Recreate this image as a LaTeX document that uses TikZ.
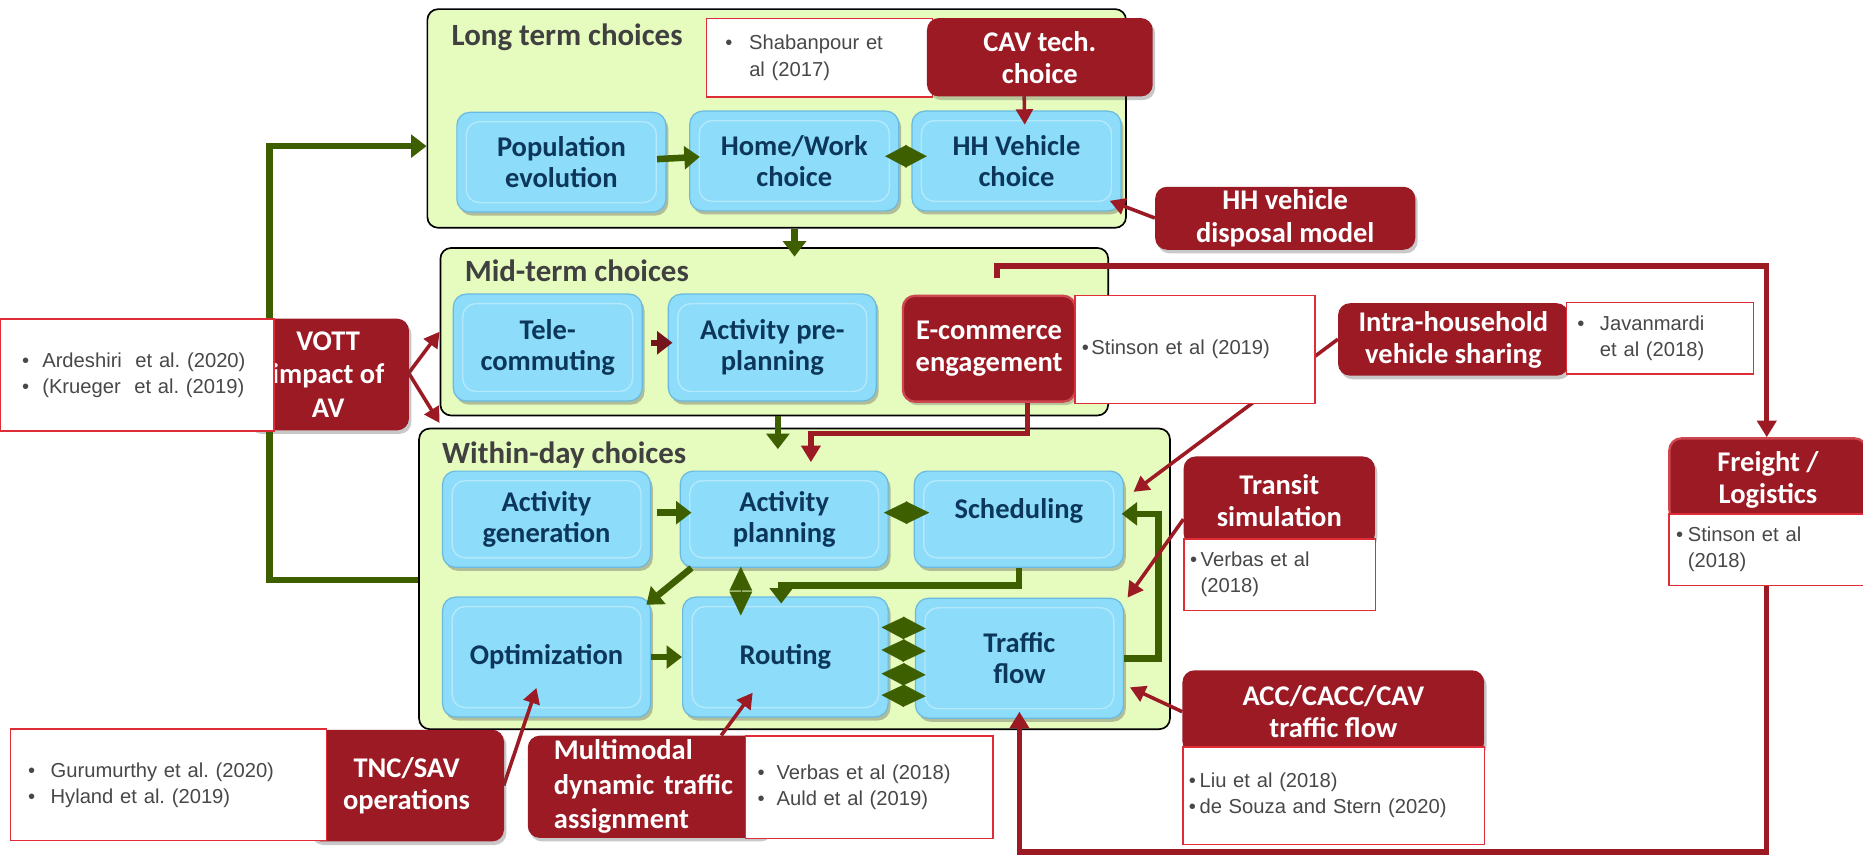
\documentclass[tikz,border=0pt]{standalone}
\usepackage{fontspec}
\setmainfont{Carlito}
\newfontfamily\citefont{Liberation Sans}
\usetikzlibrary{arrows.meta,shadows}
\definecolor{dred}{RGB}{155,26,36}
\definecolor{dredlight}{RGB}{205,70,80}
\definecolor{cred}{RGB}{222,45,55}
\definecolor{lgreen}{RGB}{230,251,190}
\definecolor{bfill}{RGB}{140,220,250}
\definecolor{bedge}{RGB}{105,185,225}
\definecolor{navy}{RGB}{12,55,90}
\definecolor{gline}{RGB}{62,95,0}
\definecolor{tgray}{RGB}{64,64,64}
\definecolor{cgray}{RGB}{72,72,72}
\newcommand\bitem[2]{\makebox[#1][l]{\textbullet}#2}
\newcommand\bcont[2]{\hspace*{#1}#2}
\frenchspacing
\begin{document}
\begin{tikzpicture}[x=1pt,y=-1pt,
  grp/.style={anchor=north west, inner sep=0pt, draw=black, line width=1.4pt, rounded corners=9pt, fill=lgreen},
  gtitle/.style={anchor=base west, inner sep=0pt, text=tgray, font=\fontsize{26}{30}\selectfont\bfseries},
  bbox/.style={anchor=north west, inner sep=0pt, rounded corners=11pt, fill=bfill, draw=bedge, line width=1pt,
    text=navy, font=\fontsize{24}{26}\selectfont\bfseries, align=center,
    drop shadow={shadow xshift=2pt, shadow yshift=-3pt, opacity=0.35, fill=black!70},
    path picture={\draw[white, opacity=0.35, line width=1.2pt]
      ([shift={(8pt,-8pt)}]path picture bounding box.north west) rectangle
      ([shift={(-8pt,8pt)}]path picture bounding box.south east);}},
  rbox/.style={anchor=north west, inner sep=0pt, rounded corners=10pt, fill=dred, text=white,
    font=\fontsize{24}{27}\selectfont\bfseries, align=center,
    drop shadow={shadow xshift=2pt, shadow yshift=-3pt, opacity=0.3, fill=black!70}},
  rboxd/.style={rbox, draw=dredlight, line width=2pt},
  cbox/.style={anchor=north west, inner ysep=0pt, draw=cred, line width=1.2pt, fill=white, text=cgray,
    font=\citefont\fontsize{17}{22}\selectfont, align=left},
  garrow/.style={draw=gline, line width=5.5pt, -{Triangle[length=13pt,width=19pt]}},
  gdiam/.style={draw=gline, fill=gline, line width=0.1pt,
    {Triangle[length=#1,width=19pt]}-{Triangle[length=#1,width=19pt]}},
  rarrow/.style={draw=dred, line width=3pt, -{Triangle[length=13pt,width=14pt]}},
  rline/.style={draw=dred, line width=4.5pt}
]
\useasboundingbox (0,0) rectangle (1568,720);
\fill[white] (0,0) rectangle (1568,720);

% groups
\node[grp, minimum width=588, minimum height=184] (lt) at (359,7) {};
\node[grp, minimum width=562, minimum height=141] (mt) at (370,208) {};
\node[grp, minimum width=632, minimum height=253] (wd) at (352,360) {};
\node[gtitle] (ltt) at (380,38) {Long term choices};
\node[gtitle] (mtt) at (391,237) {Mid-term choices};
\node[gtitle] (wdt) at (372,390) {Within-day choices};

% blue boxes
\node[bbox, minimum width=176, minimum height=84] (pop) at (384,94) {Population\\evolution};
\node[bbox, minimum width=176, minimum height=84] (hw) at (580,93) {Home/Work\\choice};
\node[bbox, minimum width=176, minimum height=84] (hh) at (767,93) {HH Vehicle\\choice};
\node[bbox, minimum width=159, minimum height=90] (tele) at (381,247) {Tele-\\commuting};
\node[bbox, minimum width=175, minimum height=90] (app) at (562,247) {Activity pre-\\planning};
\node[bbox, minimum width=175, minimum height=81] (ag) at (372,396) {Activity\\generation};
\node[bbox, minimum width=175, minimum height=81] (ap) at (572,396) {Activity\\planning};
\node[bbox, minimum width=176, minimum height=81] (sch) at (769,396) {Scheduling\\[-8pt]~};
\node[bbox, minimum width=175, minimum height=101] (opt) at (372,502) {Optimization};
\node[bbox, minimum width=173, minimum height=101] (rout) at (574,502) {Routing};
\node[bbox, minimum width=175, minimum height=101] (tf) at (770,503) {Traffic\\flow};

% green connectors
\coordinate (fbb) at (227,488);
\coordinate (fbt) at (227,123);
\draw[garrow] (wd.west |- fbb) -- (fbb) -- (fbt) -- (lt.west |- fbt);
\draw[garrow, shorten <=-8pt, shorten >=-9pt] ([yshift=3pt]pop.east) -- ([yshift=3pt]hw.west);
\draw[gdiam=18pt] ([xshift=-12pt,yshift=4pt]hw.east) -- ([xshift=13pt,yshift=4pt]hh.west);
\draw[garrow, shorten >=-8pt] ([xshift=15pt]lt.south) -- ([xshift=15pt]lt.south |- mt.north);
\draw[garrow, shorten >=-18pt] ([xshift=3pt]mt.south) -- ([xshift=3pt]mt.south |- wd.north);
\draw[garrow, shorten <=5pt, shorten >=-10pt] ([yshift=5.5pt]ag.east) -- ([yshift=5.5pt]ap.west);
\draw[gdiam=19.5pt] ([xshift=-4pt,yshift=5.5pt]ap.east) -- ([xshift=13pt,yshift=5.5pt]sch.west);
\draw[garrow] ([xshift=10pt]ap.south west) -- ([xshift=-4pt,yshift=-7pt]opt.north east);
\draw[gdiam=20pt] ([xshift=-36.5pt,yshift=1pt]ap.south) -- ([xshift=-36.5pt,yshift=-16pt]ap.south |- rout.north);
\draw[garrow, shorten >=-6pt] (sch.south) -- ++(0,15) -| ([xshift=-3.5pt]rout.north);
\draw[garrow] (opt.east) -- (rout.west);
\foreach \dy in {25,6,-14,-32} {
  \draw[gdiam=19pt] ([xshift=-6pt,yshift=\dy pt]rout.east) -- ([xshift=9pt,yshift=\dy pt]tf.west);
}
\draw[garrow, shorten >=-2pt] (tf.east) -- ++(29,0) |- ([yshift=4.5pt]sch.east);

% dark red arrow in mid-term
\draw[draw=dred!75!black, line width=5pt, -{Triangle[length=13pt,width=19pt]}, shorten <=7pt, shorten >=-4pt]
  ([yshift=4pt]tele.east) -- ([yshift=4pt]app.west);

% red connectors
\node[rboxd, minimum width=145, minimum height=89] (ec) at (759,248) {E-commerce\\engagement};
\draw[rline, -{Triangle[length=14pt,width=16pt]}] ([xshift=6.5pt,yshift=14pt]ec.north) -- ++(0,-10) -| (1487,368);
\draw[rline, -{Triangle[length=14pt,width=16pt]}] ([xshift=32.5pt]ec.south) -- ++(0,26) -| ([xshift=22.5pt,yshift=7pt]ap.north);
\draw[rarrow] (1126,285.5) -- ([xshift=8pt,yshift=-18pt]sch.north east);
\draw[rarrow] (996,437) -- ([xshift=3pt]tf.north east);
\draw[rarrow] (995,599) -- ([xshift=5pt,yshift=-24.5pt]tf.east);
\draw[rline, -{Triangle[length=14pt,width=16pt]}] (1487,492) -- (1487,717) -| ([yshift=6pt]tf.south);
\draw[rarrow] (424,661) -- ([xshift=-8.5pt,yshift=25pt]opt.south);
\draw[rarrow] (607,619) -- ([xshift=-27.5pt,yshift=21pt]rout.south);
\draw[rarrow] (344,314) -- (mt.west);
\draw[rarrow] (344,314) -- ([xshift=18pt,yshift=4pt]wd.north west);
\draw[rarrow] (862,81) -- ([xshift=7pt,yshift=-12pt]hh.north);
\draw[rarrow] (972,183.5) -- ([xshift=-10pt,yshift=9pt]hh.south east);

% red boxes and citations
\node[cbox, minimum height=66, text width=158, inner xsep=16pt] (shab) at (594,15)
  {\bitem{20pt}{Shabanpour et}\\\bcont{20pt}{al (2017)}};
\node[rbox, minimum width=190, minimum height=66] (cav) at (780,15) {CAV tech.\\choice};
\node[rbox, minimum width=219, minimum height=53] (disp) at (972,157) {HH vehicle\\disposal model};

\node[rbox, minimum width=136, minimum height=94, font=\fontsize{24}{28}\selectfont\bfseries] (vott) at (208,268) {VOTT\\impact of\\AV};
\node[cbox, minimum height=94, text width=194, inner xsep=18pt] (ard) at (0,268)
  {\bitem{17pt}{Ardeshiri \ et al. (2020)}\\\bitem{17pt}{(Krueger \ et al. (2019)}};

\node[cbox, minimum height=91, text width=190, inner xsep=6pt] (stin) at (904,248)
  {\bitem{8pt}{Stinson et al (2019)}};

\node[rbox, minimum width=194, minimum height=61] (intra) at (1126,255) {Intra-household\\vehicle sharing};
\node[cbox, minimum height=60, text width=139, inner xsep=9pt] (jav) at (1318,254)
  {\bitem{19pt}{Javanmardi}\\\bcont{19pt}{et al (2018)}};

\node[rbox, minimum width=161, minimum height=75] (trh) at (996,384) {Transit\\simulation};
\node[cbox, minimum height=60, text width=151, inner xsep=5pt] (trc) at (996,453)
  {\bitem{9pt}{Verbas et al}\\\bcont{9pt}{(2018)}};

\node[rboxd, minimum width=166, minimum height=70] (frh) at (1404,368) {Freight /\\Logistics};
\node[cbox, minimum height=60, text width=154, inner xsep=6pt] (frc) at (1404,432)
  {\bitem{10pt}{Stinson et al}\\\bcont{10pt}{(2018)}};

\node[rbox, minimum width=254, minimum height=70] (acch) at (995,564) {ACC/CACC/CAV\\traffic flow};
\node[cbox, minimum height=82, text width=244, inner xsep=5pt] (accc) at (995,628)
  {\bitem{9pt}{Liu et al (2018)}\\\bitem{9pt}{de Souza and Stern (2020)}};

\node[rbox, minimum width=164, minimum height=94] (tnc) at (260,614) {TNC/SAV\\operations};
\node[cbox, minimum height=94, text width=236, inner xsep=15pt] (gur) at (8,613)
  {\bitem{19pt}{Gurumurthy et al. (2020)}\\\bitem{19pt}{Hyland et al. (2019)}};

\node[rbox, minimum width=200, minimum height=86, align=left, text width=160, inner xsep=22pt,
  font=\fontsize{24}{29}\selectfont\bfseries] (mm) at (444,619) {Multimodal\\dynamic traffic\\assignment};
\node[cbox, minimum height=86, text width=188, inner xsep=10pt] (va) at (627,619)
  {\bitem{16pt}{Verbas et al (2018)}\\\bitem{16pt}{Auld et al (2019)}};
\end{tikzpicture}
\end{document}
